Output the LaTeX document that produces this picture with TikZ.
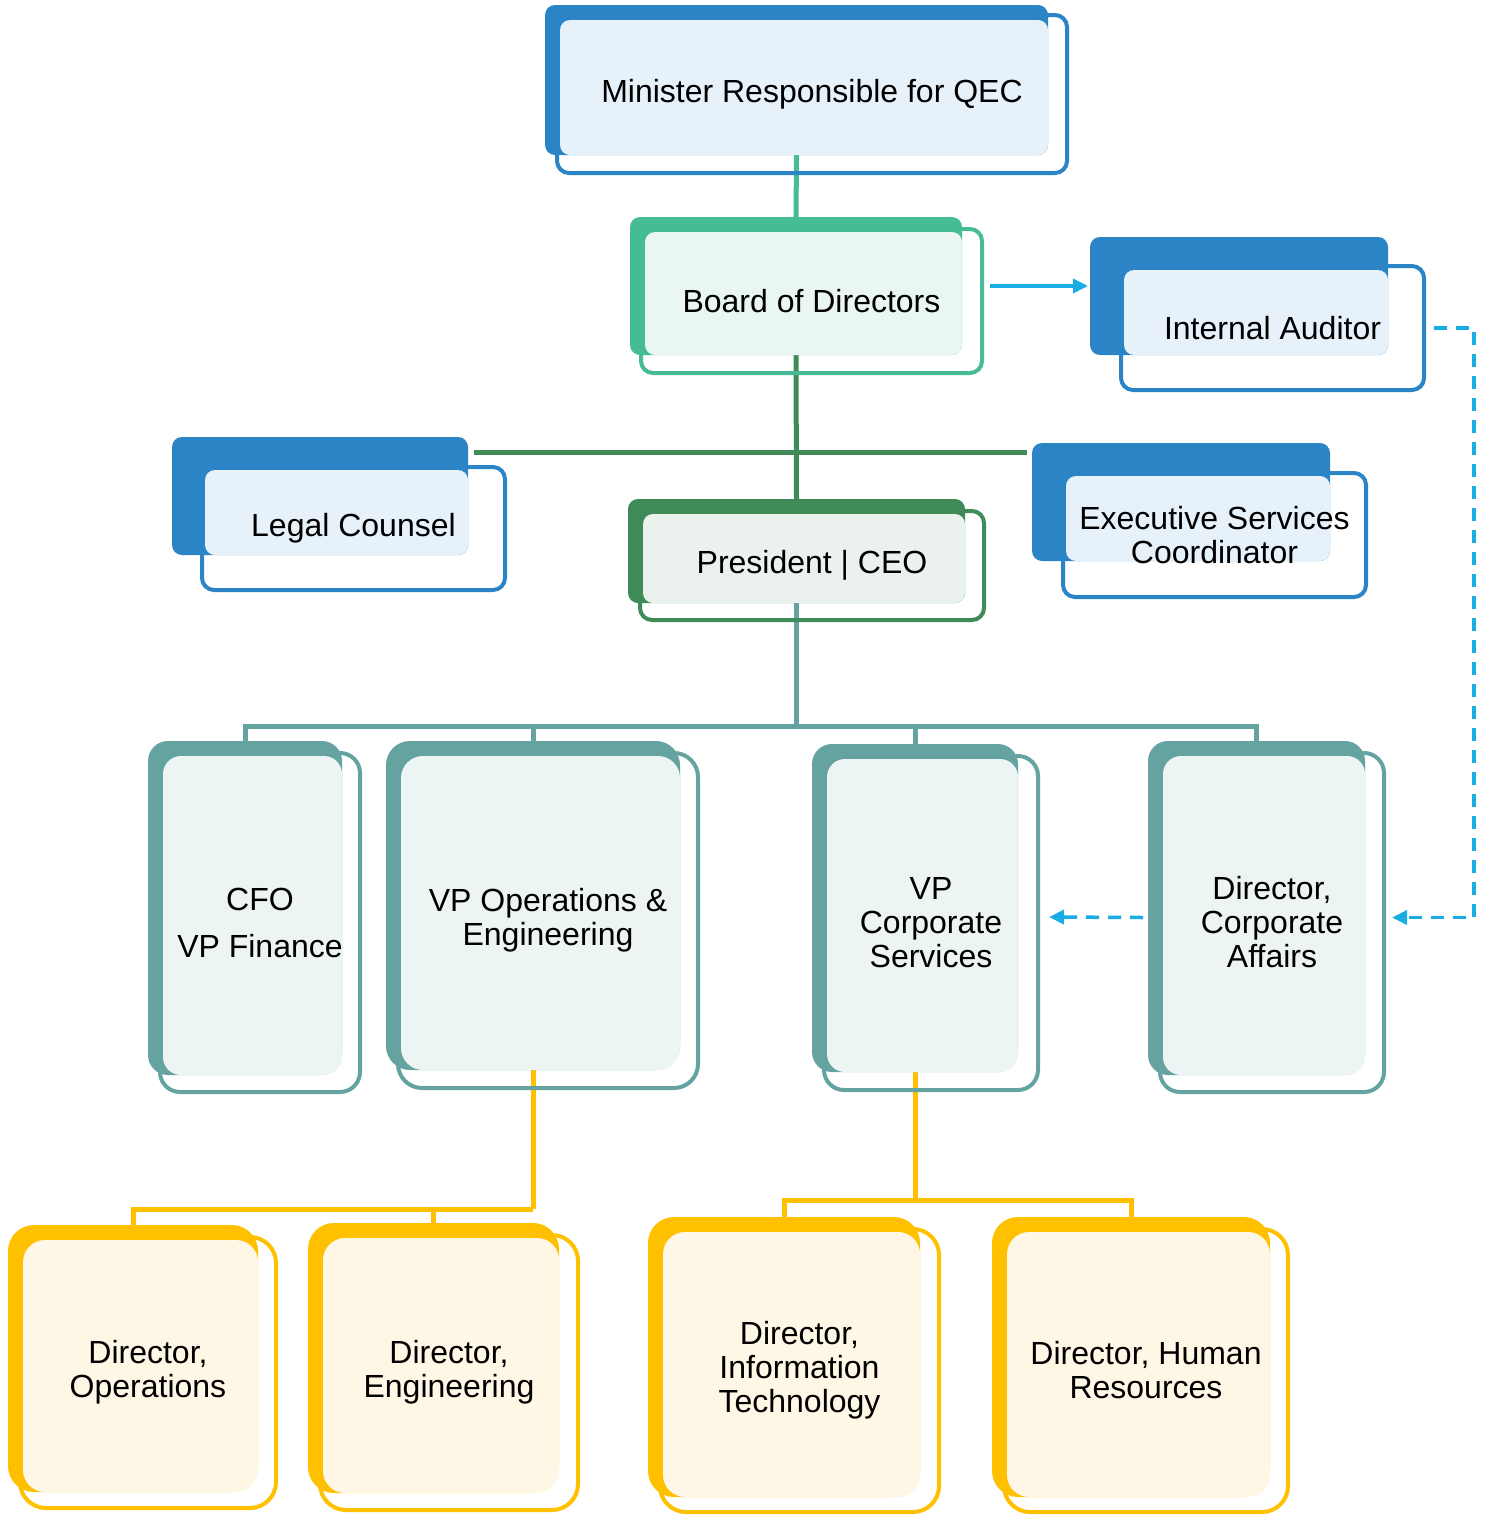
\documentclass[tikz,border=0pt]{standalone}
\usepackage{fontspec}
\setmainfont{Liberation Sans}
\usetikzlibrary{arrows.meta,backgrounds,calc}
\definecolor{blueC}{HTML}{2A84C6}
\definecolor{blueL}{HTML}{E7F1F9}
\definecolor{boardC}{HTML}{46BC96}
\definecolor{boardL}{HTML}{EAF6F2}
\definecolor{presC}{HTML}{3F8B57}
\definecolor{presL}{HTML}{EBF1ED}
\definecolor{tealC}{HTML}{64A39F}
\definecolor{tealL}{HTML}{EDF5F4}
\definecolor{yelC}{HTML}{FFC000}
\definecolor{yelL}{HTML}{FFF7E5}
\definecolor{arrC}{HTML}{1AADE4}
\newcommand{\bx}[6]{\node[#2,minimum width={#5pt-#3pt},minimum height={#6pt-#4pt}] (#1) at ({(#3+#5)/2},{(#4+#6)/2}) {};}
\newcommand{\ob}[7]{\node[#2,minimum width={#5pt-#3pt},minimum height={#6pt-#4pt}] (#1) at ({(#3+#5)/2},{(#4+#6)/2}) {#7};}
\tikzset{
  back/.style={fill=#1, draw=none, inner sep=0pt, outer sep=0pt, rectangle},
  lite/.style={fill=#1, draw=none, inner sep=0pt, outer sep=0pt, rectangle},
  outl/.style={draw=#1, line width=4pt, inner sep=0pt, outer sep=0pt, rectangle, align=center,
    font=\fontsize{32}{34}\selectfont, text=black},
  conn/.style={draw=#1, line width=5pt},
  sarrow/.style={draw=arrC, line width=3.5pt, -{Triangle[length=15pt,width=14pt]}},
  darrow/.style={draw=arrC, line width=3.5pt, dash pattern=on 13pt off 9pt, -{Triangle[length=15pt,width=14pt]}},
}
\begin{document}
\begin{tikzpicture}[x=1pt,y=-1pt]
\useasboundingbox (0,0) rectangle (1486,1515);
% Minister
\bx{minister-b}{back=blueC, rounded corners=10pt}{545}{5}{1048}{155}
\bx{minister-l}{lite=blueL, rounded corners=10pt}{560}{20}{1048}{155}
\ob{minister}{outl=blueC, rounded corners=12pt}{557}{15}{1067}{173}{Minister Responsible for QEC}
% Board
\bx{board-b}{back=boardC, rounded corners=10pt}{630}{217}{962}{355}
\bx{board-l}{lite=boardL, rounded corners=10pt}{645}{232}{962}{355}
\ob{board}{outl=boardC, rounded corners=12pt}{641}{229}{982}{373}{Board of Directors}
% Internal Auditor
\bx{ia-b}{back=blueC, rounded corners=10pt}{1090}{237}{1388}{355}
\bx{ia-l}{lite=blueL, rounded corners=10pt}{1124}{270}{1388}{355}
\ob{ia}{outl=blueC, rounded corners=12pt}{1121}{266}{1424}{390}{Internal Auditor}
% Legal Counsel
\bx{legal-b}{back=blueC, rounded corners=10pt}{172}{437}{468}{555}
\bx{legal-l}{lite=blueL, rounded corners=10pt}{205}{470}{468}{555}
\ob{legal}{outl=blueC, rounded corners=12pt}{202}{467}{505}{590}{Legal Counsel}
% Executive Services Coordinator
\bx{exec-b}{back=blueC, rounded corners=10pt}{1032}{443}{1330}{561}
\bx{exec-l}{lite=blueL, rounded corners=10pt}{1066}{476}{1330}{561}
\ob{exec}{outl=blueC, rounded corners=12pt}{1063}{473}{1366}{597}{Executive Services\\Coordinator}
% President
\bx{president-b}{back=presC, rounded corners=10pt}{628}{499}{965}{603}
\bx{president-l}{lite=presL, rounded corners=10pt}{643}{514}{965}{603}
\ob{president}{outl=presC, rounded corners=12pt}{640}{511}{984}{620}{President | CEO}
% CFO
\bx{cfo-b}{back=tealC, rounded corners=20pt}{148}{741}{342}{1075}
\bx{cfo-l}{lite=tealL, rounded corners=18pt}{163}{756}{342}{1075}
\ob{cfo}{outl=tealC, rounded corners=20pt}{160}{753}{360}{1092}{CFO\\[13pt]VP Finance}
% VP Operations
\bx{vpops-b}{back=tealC, rounded corners=24pt}{386}{741}{680}{1070}
\bx{vpops-l}{lite=tealL, rounded corners=22pt}{401}{756}{680}{1070}
\ob{vpops}{outl=tealC, rounded corners=24pt}{398}{753}{698}{1088}{VP Operations \&\\Engineering}
% VP Corporate Services
\bx{vpcs-b}{back=tealC, rounded corners=20pt}{812}{744}{1018}{1072}
\bx{vpcs-l}{lite=tealL, rounded corners=18pt}{827}{759}{1018}{1072}
\ob{vpcs}{outl=tealC, rounded corners=20pt}{824}{756}{1038}{1090}{VP\\Corporate\\Services}
% Director Corporate Affairs
\bx{dca-b}{back=tealC, rounded corners=20pt}{1148}{741}{1365}{1075}
\bx{dca-l}{lite=tealL, rounded corners=18pt}{1163}{756}{1365}{1075}
\ob{dca}{outl=tealC, rounded corners=20pt}{1160}{753}{1384}{1092}{Director,\\Corporate\\Affairs}
% Director Operations
\bx{dops-b}{back=yelC, rounded corners=26pt}{8}{1225}{258}{1492}
\bx{dops-l}{lite=yelL, rounded corners=22pt}{23}{1240}{258}{1492}
\ob{dops}{outl=yelC, rounded corners=26pt}{20}{1237}{276}{1508}{Director,\\Operations}
% Director Engineering
\bx{deng-b}{back=yelC, rounded corners=26pt}{308}{1223}{559}{1493}
\bx{deng-l}{lite=yelL, rounded corners=22pt}{323}{1238}{559}{1493}
\ob{deng}{outl=yelC, rounded corners=26pt}{320}{1235}{578}{1510}{Director,\\Engineering}
% Director IT
\bx{dit-b}{back=yelC, rounded corners=26pt}{648}{1217}{920}{1497}
\bx{dit-l}{lite=yelL, rounded corners=22pt}{663}{1232}{920}{1497}
\ob{dit}{outl=yelC, rounded corners=26pt}{660}{1229}{939}{1512}{Director,\\Information\\Technology}
% Director HR
\bx{dhr-b}{back=yelC, rounded corners=26pt}{992}{1217}{1270}{1497}
\bx{dhr-l}{lite=yelL, rounded corners=22pt}{1007}{1232}{1270}{1497}
\ob{dhr}{outl=yelC, rounded corners=26pt}{1004}{1229}{1288}{1512}{Director, Human\\Resources}
% junction coordinates
\coordinate (hbar) at (797,452);
\coordinate (vbar) at (797,726);
\coordinate (ybarA) at (533,1209);
\coordinate (ybarB) at (916,1200);
\begin{scope}[on background layer]
\draw[conn=boardC] (minister-b.south) -- (board-b.north);
\draw[conn=presC] (board-b.south) -- (president-b.north);
\draw[conn=presC] ($(legal-b.east |- hbar)+(6,0)$) -- ($(exec-b.west |- hbar)+(-5,0)$);
\draw[conn=tealC] (president-b.south) -- (president-b.south |- vbar);
\draw[conn=tealC] (cfo-b.north) -- (cfo-b.north |- vbar) -- (dca-b.north |- vbar) -- (dca-b.north);
\draw[conn=tealC] (vpops-b.north) -- (vpops-b.north |- vbar);
\draw[conn=tealC] (vpcs-b.north) -- (vpcs-b.north |- vbar);
\draw[conn=yelC] (vpops-b.south) -- (vpops-b.south |- ybarA);
\draw[conn=yelC] (dops-b.north) -- (dops-b.north |- ybarA) -- (vpops-b.south |- ybarA);
\draw[conn=yelC] (deng-b.north) -- (deng-b.north |- ybarA);
\draw[conn=yelC] (vpcs-b.south) -- (vpcs-b.south |- ybarB);
\draw[conn=yelC] (dit-b.north) -- (dit-b.north |- ybarB) -- (dhr-b.north |- ybarB) -- (dhr-b.north);
\end{scope}
\draw[sarrow] ($(board.east |- board-b.east)+(8,0)$) -- ($(ia-b.west |- board-b.east)+(-2,0)$);
\draw[darrow] ($(ia.east)+(10,0)$) -| ($(dca.east)+(90,-5)$) -- ($(dca.east)+(8,-5)$);
\draw[darrow] ($(dca.west)+(-17,-5)$) -- ($(vpcs.east)+(11,-6)$);
\end{tikzpicture}
\end{document}
